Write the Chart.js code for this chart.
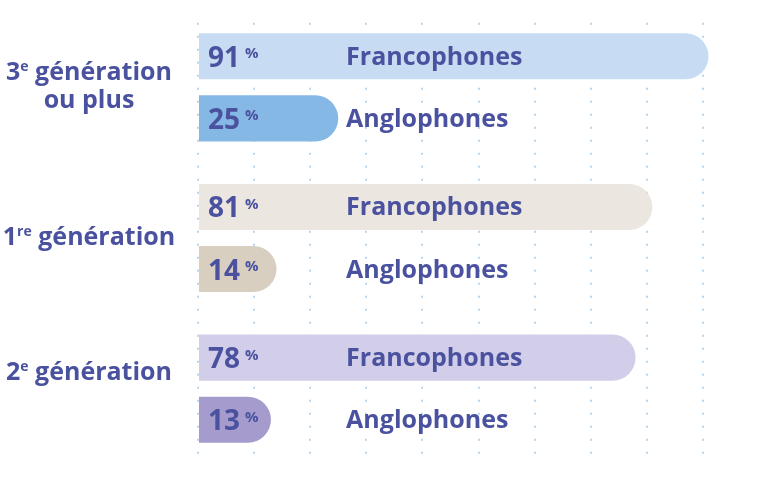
<!DOCTYPE html>
<html lang="fr">
<head>
<meta charset="utf-8">
<script src="https://cdn.jsdelivr.net/npm/chart.js@4.4.1/dist/chart.umd.min.js"></script>
<style>
  html, body { margin: 0; padding: 0; background: #fff; }
  #wrap { width: 759px; height: 481px; }
</style>
</head>
<body>
<div id="wrap"><canvas id="chart"></canvas></div>
<script>
// générations (lignes du libellé, {…} = exposant)
const generations = [['3{e} génération', 'ou plus'], ['1{re} génération'], ['2{e} génération']];
const francophones = [91, 81, 78];
const anglophones = [25, 14, 13];
const franColors = ['#c7dcf2', '#ebe6e0', '#d2cee9'];
const angColors = ['#86b8e5', '#d9cfc1', '#a59ccd'];

const textColor = '#4a529f';
const FONT = '"Open Sans", sans-serif';
const seriesLabelAt = 26.4; // position du nom de série, en % de l'axe
const labelShift = [0, 0, -15]; // petit décalage vertical des libellés

// texte centré avec exposants
function drawRich(ctx, str, cx, y, size) {
    const supSize = Math.round(size * 0.58);
    let total = 0;
    const segs = str.split(/(\{[^}]*\})/).filter(s => s).map(p => {
        const sup = p[0] === '{';
        const t = sup ? p.slice(1, -1) : p;
        ctx.font = `bold ${sup ? supSize : size}px ${FONT}`;
        const w = ctx.measureText(t).width;
        total += w;
        return { t, sup, w };
    });
    let x = cx - total / 2;
    segs.forEach(s => {
        ctx.font = `bold ${s.sup ? supSize : size}px ${FONT}`;
        ctx.fillText(s.t, x, s.sup ? y - size * 0.36 : y);
        x += s.w;
    });
}

const labelsPlugin = {
    id: 'labels',
    afterDatasetsDraw(chart) {
        const ctx = chart.ctx;
        const yScale = chart.scales.y, xScale = chart.scales.x;
        ctx.save();
        ctx.fillStyle = textColor;
        ctx.textAlign = 'left';
        ctx.textBaseline = 'alphabetic';
        // libellés des générations
        generations.forEach((lines, i) => {
            const cy = yScale.getPixelForValue(i) + labelShift[i];
            lines.forEach((line, k) => {
                const by = cy + 6.5 + (k - (lines.length - 1) / 2) * 28;
                drawRich(ctx, line, 89, by, 25);
            });
        });
        // valeurs + nom de série dans chaque barre
        chart.data.datasets.forEach((ds, d) => {
            chart.getDatasetMeta(d).data.forEach((bar, i) => {
                const x0 = Math.min(bar.base, bar.x) + 9;
                const v = String(ds.data[i]);
                ctx.font = `bold 28px ${FONT}`;
                ctx.fillText(v, x0, bar.y + 10.5);
                const w = ctx.measureText(v).width;
                ctx.font = `bold 15px ${FONT}`;
                ctx.fillText('%', x0 + w + 5, bar.y + 2);
                ctx.font = `bold 25px ${FONT}`;
                ctx.fillText(ds.label, xScale.getPixelForValue(seriesLabelAt), bar.y + 8.5);
            });
        });
        ctx.restore();
    }
};

new Chart(document.getElementById('chart'), {
    type: 'bar',
    data: {
        labels: generations,
        datasets: [
            { label: 'Francophones', data: francophones, backgroundColor: franColors },
            { label: 'Anglophones', data: anglophones, backgroundColor: angColors }
        ]
    },
    options: {
        indexAxis: 'y',
        responsive: true,
        maintainAspectRatio: false,
        animation: false,
        layout: { padding: { left: 198, right: 0, top: 12, bottom: 17 } },
        datasets: {
            bar: { categoryPercentage: 0.824, barPercentage: 0.742, borderRadius: 23, borderSkipped: 'start' }
        },
        plugins: { legend: { display: false }, tooltip: { enabled: false } },
        scales: {
            x: {
                min: 0, max: 100,
                ticks: { display: false, stepSize: 10 },
                border: { display: false, dash: [2, 11], dashOffset: 2.25 },
                grid: {
                    color: c => c.tick && c.tick.value === 100 ? 'rgba(0,0,0,0)' : '#b6d6f0',
                    lineWidth: 2,
                    drawTicks: false
                }
            },
            y: { display: false }
        }
    },
    plugins: [labelsPlugin]
});
</script>
</body>
</html>
